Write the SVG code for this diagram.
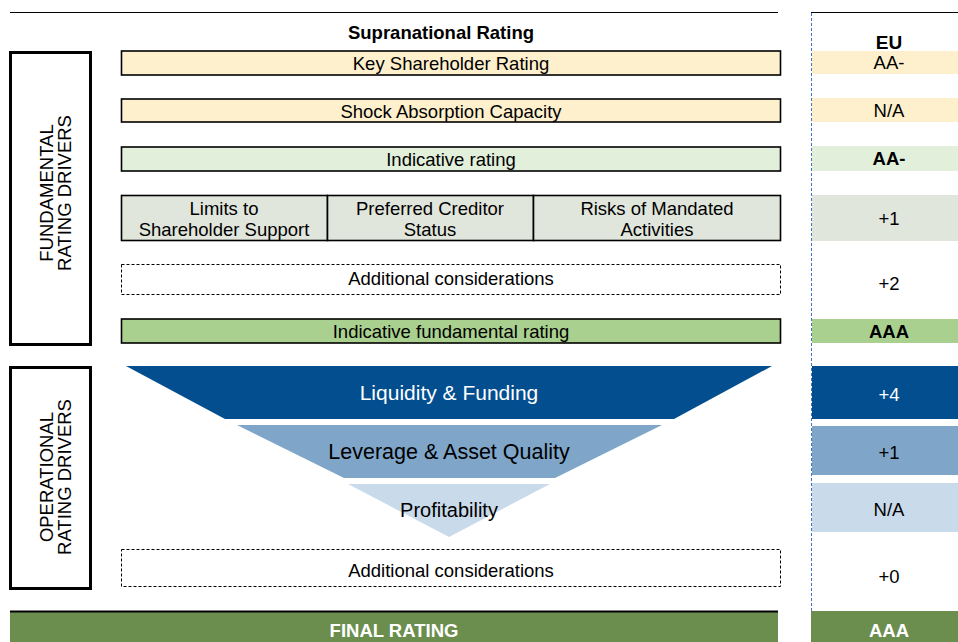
<svg xmlns="http://www.w3.org/2000/svg" width="958" height="642" viewBox="0 0 958 642">
<style>
text{font-family:"Liberation Sans",Arial,sans-serif;font-size:18.5px;fill:#000;text-anchor:middle}
.b{font-weight:bold}
.w{fill:#fff}
.v{font-size:18.5px}
.box{stroke:#000;stroke-width:1.6}
.dash{fill:#fff;stroke:#000;stroke-width:1;stroke-dasharray:3 2}
.side{fill:#fff;stroke:#000;stroke-width:3}
.peach{fill:#FFF0CD}
.lg{fill:#E2EFDA}
.gg{fill:#E0E6DC}
.mg{fill:#A9D08E}
.dg{fill:#6B8E4E}
.db{fill:#024E8F}
.mb{fill:#7FA6C9}
.lb{fill:#C9DAEA}
</style>
<g id="frame">
<line x1="10" y1="12.5" x2="778" y2="12.5" stroke="#000" stroke-width="1.2"/>
<line x1="811" y1="12.5" x2="958" y2="12.5" stroke="#000" stroke-width="1.2"/>
<line x1="811.5" y1="13" x2="811.5" y2="642" stroke="#4472C4" stroke-width="1" stroke-dasharray="3 2"/>
<text class="b" x="441" y="39">Supranational Rating</text>
<text class="b" x="889" y="49" style="font-size:19px">EU</text>
</g>
<g id="fundamental-drivers">
<rect class="side" x="10.5" y="52.5" width="80" height="292"/>
<text class="v" transform="translate(53,193) rotate(-90)">FUNDAMENTAL</text>
<text class="v" transform="translate(71,193) rotate(-90)">RATING DRIVERS</text>
</g>
<g id="operational-drivers">
<rect class="side" x="10.5" y="367.5" width="80" height="221"/>
<text class="v" transform="translate(53,477) rotate(-90)">OPERATIONAL</text>
<text class="v" transform="translate(71,477) rotate(-90)">RATING DRIVERS</text>
</g>
<g id="key-shareholder">
<rect class="box peach" x="121.5" y="51" width="659" height="24"/>
<text x="451" y="70">Key Shareholder Rating</text>
<rect class="peach" x="812" y="51" width="146" height="23"/>
<text x="889" y="69">AA-</text>
</g>
<g id="shock-absorption">
<rect class="box peach" x="121.5" y="99" width="659" height="23"/>
<text x="451" y="118">Shock Absorption Capacity</text>
<rect class="peach" x="812" y="98" width="146" height="24"/>
<text x="889" y="117">N/A</text>
</g>
<g id="indicative-rating">
<rect class="box lg" x="121.5" y="147" width="659" height="24"/>
<text x="451" y="166">Indicative rating</text>
<rect class="lg" x="812" y="146" width="146" height="25"/>
<text class="b" x="889" y="165">AA-</text>
</g>
<g id="adjustments">
<rect class="box gg" x="121.5" y="195.5" width="206" height="45"/>
<rect class="box gg" x="327.5" y="195.5" width="206" height="45"/>
<rect class="box gg" x="533.5" y="195.5" width="247" height="45"/>
<text x="224" y="215">Limits to</text>
<text x="224" y="236">Shareholder Support</text>
<text x="430" y="215">Preferred Creditor</text>
<text x="430" y="236">Status</text>
<text x="657" y="215">Risks of Mandated</text>
<text x="657" y="236">Activities</text>
<rect class="gg" x="812" y="195" width="146" height="46"/>
<text x="889" y="225">+1</text>
</g>
<g id="additional-1">
<rect class="dash" x="121.5" y="264.5" width="659" height="30"/>
<text x="451" y="285">Additional considerations</text>
<text x="889" y="290">+2</text>
</g>
<g id="indicative-fundamental">
<rect class="box mg" x="121.5" y="319" width="659" height="24"/>
<text x="451" y="338">Indicative fundamental rating</text>
<rect class="mg" x="812" y="319" width="146" height="24"/>
<text class="b" x="889" y="338">AAA</text>
</g>
<g id="liquidity">
<polygon class="db" points="126,366 772,366 674,419 225,419"/>
<text class="w" x="449" y="400" style="font-size:21px">Liquidity &amp; Funding</text>
<rect class="db" x="812" y="366" width="146" height="53"/>
<text class="w" x="889" y="401">+4</text>
</g>
<g id="leverage">
<polygon class="mb" points="237,425 662,425 555,478 344,478"/>
<text x="449" y="459" style="font-size:21.5px">Leverage &amp; Asset Quality</text>
<rect class="mb" x="812" y="426" width="146" height="49"/>
<text x="889" y="459">+1</text>
</g>
<g id="profitability">
<polygon class="lb" points="348,484 550,484 449,537"/>
<text x="449" y="517" style="font-size:20px">Profitability</text>
<rect class="lb" x="812" y="483" width="146" height="49"/>
<text x="889" y="516">N/A</text>
</g>
<g id="additional-2">
<rect class="dash" x="121.5" y="549.5" width="659" height="37"/>
<text x="451" y="577">Additional considerations</text>
<text x="889" y="583">+0</text>
</g>
<g id="final-rating">
<rect class="dg" x="10" y="611" width="768" height="31"/>
<line x1="10" y1="611.5" x2="778" y2="611.5" stroke="#000" stroke-width="2"/>
<text class="b w" x="394" y="637">FINAL RATING</text>
<rect class="dg" x="811" y="611" width="147" height="31"/>
<text class="b w" x="889" y="637">AAA</text>
</g>
<g id="connectors"></g>
</svg>
